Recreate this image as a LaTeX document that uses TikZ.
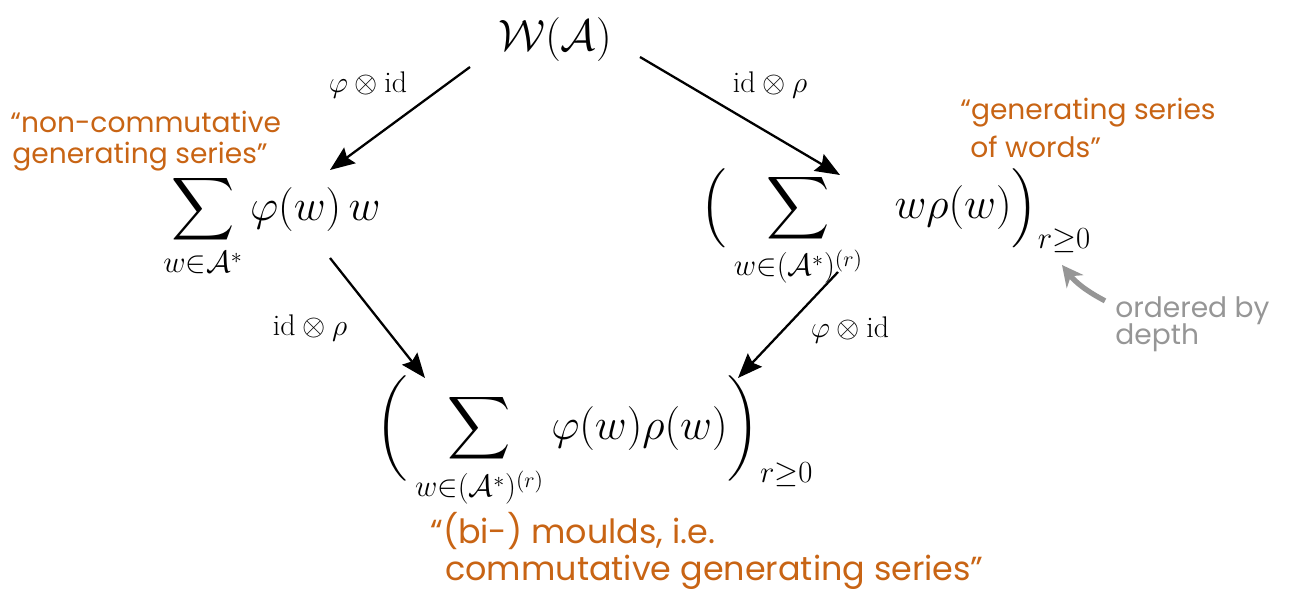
\documentclass[tikz,border=0pt]{standalone}
\usepackage{fix-cm}
\usepackage{amsmath,amssymb}
\usepackage{fontspec}
\newfontfamily\hand{Poppins}
\usetikzlibrary{arrows.meta,calc}
\definecolor{note}{RGB}{200,100,20}
\definecolor{grey}{RGB}{150,150,150}
\tikzset{
  mathnode/.style={inner sep=0pt,font=\fontsize{25}{28}\selectfont},
  lab/.style={inner sep=0pt,font=\fontsize{17}{20}\selectfont},
  notetext/.style={inner sep=0pt,anchor=base west,text=note,font=\hand\fontsize{16}{19}\selectfont},
  bignote/.style={inner sep=0pt,anchor=base west,text=note,font=\hand\fontsize{19}{22}\selectfont},
  greytext/.style={inner sep=0pt,anchor=base west,text=grey,font=\hand\fontsize{16}{17}\selectfont},
  arr/.style={-{Stealth[length=14pt,width=11pt,inset=2pt]},line width=1.3pt},
}
\begin{document}
\begin{tikzpicture}[x=0.02cm,y=-0.02cm]
\useasboundingbox (0,0) rectangle (1289,601);
\node[mathnode] (top) at (555,40) {$\mathcal{W}(\mathcal{A})$};
\node[mathnode] (left) at (272,226) {$\displaystyle\sum_{w\in\mathcal{A}^*}\varphi(w)\,w$};
\node[mathnode,anchor=west] (right) at (700,228) {$\displaystyle\Big(\sum_{w\in(\mathcal{A}^*)^{(r)}}\;\; w\rho(w)\Big)_{r\geq0}$};
\node[mathnode,anchor=west] (bottom) at (375,442) {$\displaystyle\bigg(\sum_{w\in(\mathcal{A}^*)^{(r)}}\varphi(w)\rho(w)\bigg)_{r\geq0}$};

\draw[arr] ($(top)+(-85,27)$) -- ($(left)+(58,-56)$);
\draw[arr] ($(top)+(85,17)$) -- ($(right.west)+(140,-53)$);
\draw[arr] ($(left)+(58,32)$) -- ($(bottom.west)+(50,-64)$);
\draw[arr] ($(right.west)+(138,44)$) -- ($(bottom.west)+(363,-64)$);

\node[lab] (l1) at (368,85) {$\varphi\otimes\mathrm{id}$};
\node[lab] (l2) at (770,85) {$\mathrm{id}\otimes\rho$};
\node[lab] (l3) at (310,328) {$\mathrm{id}\otimes\rho$};
\node[lab] (l4) at (850,330) {$\varphi\otimes\mathrm{id}$};

\node[notetext] (n1a) at (10,133) {“non-commutative};
\node[notetext] (n1b) at (12,164) {generating series”};
\node[notetext] (n2a) at (960,120) {“generating series};
\node[notetext] (n2b) at (970,158) {of words”};
\node[bignote] (n3a) at (430,543) {“(bi-) moulds, i.e.};
\node[bignote] (n3b) at (445,580) {commutative generating series”};
\node[greytext] (g1) at (1115,318) {ordered by};
\node[greytext] (g2) at (1115,345) {depth};
\coordinate (gt) at (1062,265);
\draw[grey,line width=3pt,-{Stealth[length=12pt,width=12pt]}] ($(g1.north west)+(-10,4)$) to[bend left=12] (gt);
\end{tikzpicture}
\end{document}
